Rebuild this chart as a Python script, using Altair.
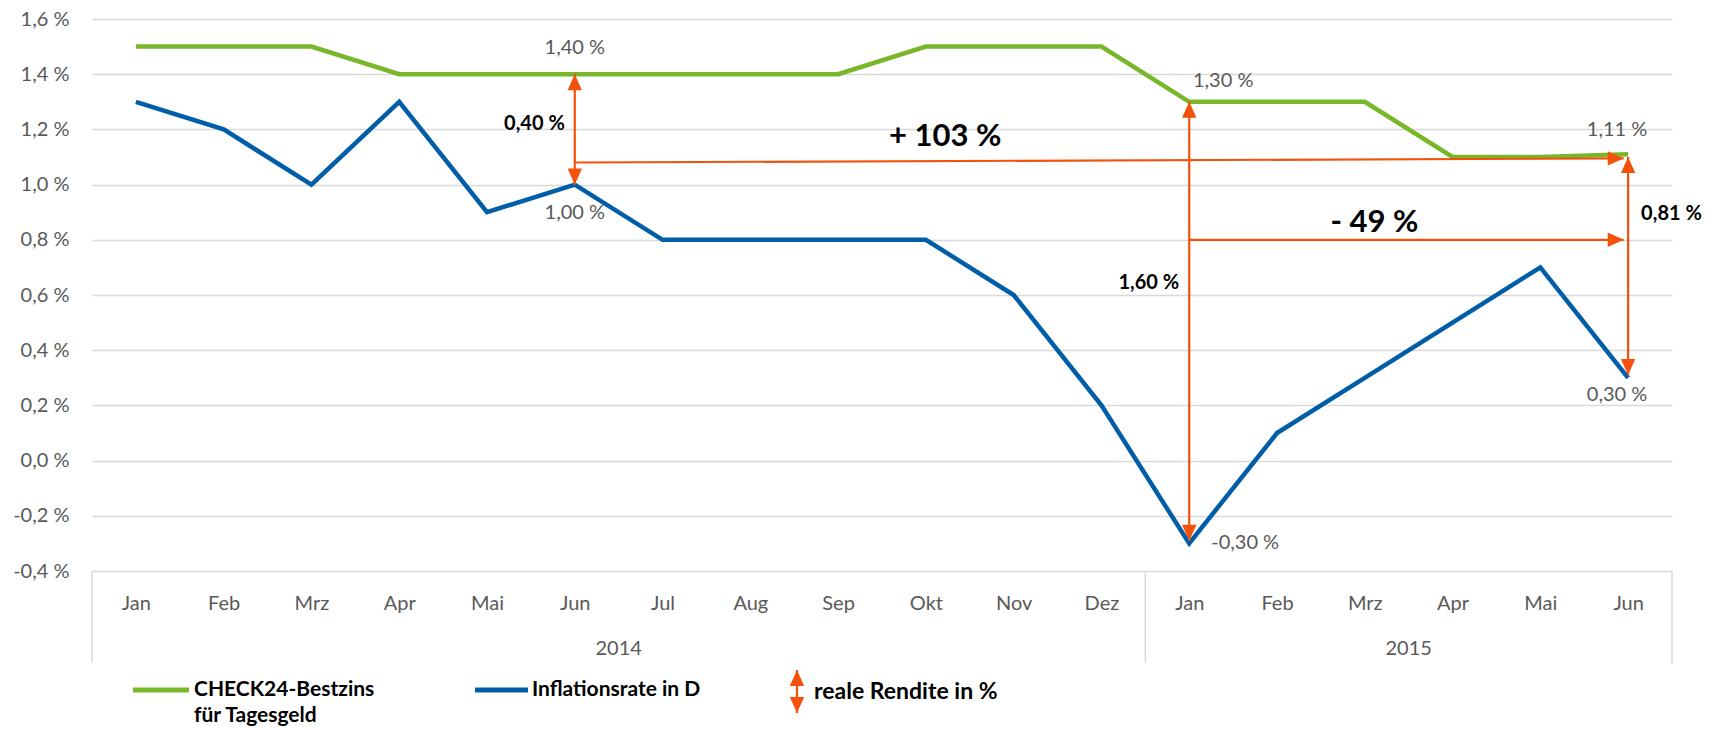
import altair as alt
import pandas as pd

# ---------------- data ----------------
months = ["Jan", "Feb", "Mrz", "Apr", "Mai", "Jun", "Jul", "Aug", "Sep", "Okt", "Nov", "Dez",
          "Jan", "Feb", "Mrz", "Apr", "Mai", "Jun"]
years = ["2014"] * 12 + ["2015"] * 6
bestzins = [1.50, 1.50, 1.50, 1.40, 1.40, 1.40, 1.40, 1.40, 1.40, 1.50, 1.50, 1.50,
            1.30, 1.30, 1.30, 1.10, 1.10, 1.11]
inflation = [1.30, 1.20, 1.00, 1.30, 0.90, 1.00, 0.80, 0.80, 0.80, 0.80, 0.60, 0.20,
             -0.30, 0.10, 0.30, 0.50, 0.70, 0.30]
y_ticks = [-0.4, -0.2, 0.0, 0.2, 0.4, 0.6, 0.8, 1.0, 1.2, 1.4, 1.6]

# real-return arrows (month index, lower value, upper value, label)
real_idx = [5, 12, 17]
real_low = [1.00, -0.29, 0.31]
real_high = [1.40, 1.30, 1.10]
real_labels = ["0,40 %", "1,60 %", "0,81 %"]
real_label_y = [1.22, 0.645, 0.895]

# change arrows (start index, start value, end index, end value)
chg_start_idx = [5, 12]
chg_start_val = [1.08, 0.80]
chg_end_idx = [17, 17]
chg_end_val = [1.095, 0.80]
chg_labels = ["+ 103 %", "- 49 %"]
chg_label_x = [9.72, 14.61]
chg_label_y = [1.173, 0.862]

legend_texts = ["CHECK24-Bestzins", "für Tagesgeld", "Inflationsrate in D", "reale Rendite in %"]

# ---------------- style ----------------
GREEN = "#78b72a"
BLUE = "#005ea8"
ORANGE = "#f4510b"
GRID = "#d9d9d9"
GRAY = "#595959"
FONT = "Lato"
W, H = 1580, 552
FS = 20


def pct(v):
    return f"{v:.2f}".replace(".", ",") + " %"


df = pd.DataFrame({
    "x": [i + 0.5 for i in range(len(months))],
    "month": months,
    "year": years,
    "bestzins": bestzins,
    "inflation": inflation,
})

xs = alt.Scale(domain=[0, len(months)], nice=False, zero=False)
ys = alt.Scale(domain=[y_ticks[0], y_ticks[-1]], nice=False, zero=False)

month_expr = "[" + ",".join(f"'{m}'" for m in months) + "][floor(datum.value)]"
y_expr = "(datum.value < -0.0001 ? '-' : '') + replace(format(abs(datum.value), '.1f'), '.', ',') + ' %'"

x_axis = alt.Axis(values=[i + 0.5 for i in range(len(months))], labelExpr=month_expr, title=None,
                  grid=False, ticks=False, tickSize=0, domain=False, labelFont=FONT,
                  labelFontSize=FS, labelColor=GRAY, labelPadding=32, labelBaseline="middle")
y_axis = alt.Axis(values=y_ticks, labelExpr=y_expr, title=None, grid=True, gridColor=GRID,
                  gridWidth=1.5, ticks=False, tickSize=0, domain=False, labelFont=FONT,
                  labelFontSize=FS, labelColor=GRAY, labelPadding=23)


def X(field):
    return alt.X(f"{field}:Q", scale=xs, axis=x_axis)


def Y(field):
    return alt.Y(f"{field}:Q", scale=ys, axis=y_axis)


UP = "M0,0L0.45,1L-0.45,1Z"
DOWN = "M0,0L0.45,-1L-0.45,-1Z"
RIGHT = "M0,0L-1,-0.45L-1,0.45Z"
HEAD = 1024

layers = []

# year separators & year labels
bounds = [0] + [i for i in range(1, len(years)) if years[i] != years[i - 1]] + [len(years)]
sep_df = pd.DataFrame({"b": bounds})
layers.append(alt.Chart(sep_df).mark_rule(color=GRID, strokeWidth=1.5).encode(
    x=X("b"), y=alt.value(H), y2=alt.value(H + 92)))
yr_df = pd.DataFrame({
    "year": [years[bounds[k]] for k in range(len(bounds) - 1)],
    "xc": [(bounds[k] + bounds[k + 1]) / 2 for k in range(len(bounds) - 1)],
})
layers.append(alt.Chart(yr_df).mark_text(font=FONT, fontSize=FS, color=GRAY, baseline="middle").encode(
    x=X("xc"), y=alt.value(H + 78), text="year:N"))

# lines
layers.append(alt.Chart(df).mark_line(color=GREEN, strokeWidth=4.5, strokeJoin="miter").encode(
    x=X("x"), y=Y("bestzins")))
layers.append(alt.Chart(df).mark_line(color=BLUE, strokeWidth=4.5, strokeJoin="miter").encode(
    x=X("x"), y=Y("inflation")))

# vertical real-return arrows
va = pd.DataFrame({"x": [i + 0.5 for i in real_idx], "lo": real_low, "hi": real_high,
                   "label": real_labels, "ly": real_label_y})
layers.append(alt.Chart(va).mark_rule(color=ORANGE, strokeWidth=2.2).encode(
    x=X("x"), y=Y("lo"), y2="hi"))
layers.append(alt.Chart(va).mark_point(shape=UP, filled=True, color=ORANGE, opacity=1, size=HEAD,
                                       strokeWidth=0).encode(x=X("x"), y=Y("hi")))
layers.append(alt.Chart(va).mark_point(shape=DOWN, filled=True, color=ORANGE, opacity=1, size=HEAD,
                                       strokeWidth=0).encode(x=X("x"), y=Y("lo")))
# labels of real returns
left_lab = va.iloc[:2]
right_lab = va.iloc[2:]
layers.append(alt.Chart(left_lab).mark_text(font=FONT, fontSize=20, fontWeight="bold", color="black",
                                            align="right", baseline="middle", dx=-10).encode(
    x=X("x"), y=Y("ly"), text="label:N"))
layers.append(alt.Chart(right_lab).mark_text(font=FONT, fontSize=20, fontWeight="bold", color="black",
                                             align="left", baseline="middle", dx=13).encode(
    x=X("x"), y=Y("ly"), text="label:N"))

# horizontal change arrows
ha = pd.DataFrame({"x1": [i + 0.5 for i in chg_start_idx], "y1": chg_start_val,
                   "x2": [i + 0.45 for i in chg_end_idx], "y2": chg_end_val,
                   "label": chg_labels, "lx": chg_label_x, "ly": chg_label_y})
layers.append(alt.Chart(ha).mark_rule(color=ORANGE, strokeWidth=2.2).encode(
    x=X("x1"), y=Y("y1"), x2="x2", y2="y2"))
layers.append(alt.Chart(ha).mark_point(shape=RIGHT, filled=True, color=ORANGE, opacity=1, size=HEAD,
                                       strokeWidth=0).encode(x=X("x2"), y=Y("y2")))
layers.append(alt.Chart(ha).mark_text(font=FONT, fontSize=31, fontWeight="bold", color="black",
                                      align="center", baseline="middle").encode(
    x=X("lx"), y=Y("ly"), text="label:N"))

# point labels
def point_label(series, idx, dx, dy, align="center"):
    vals = bestzins if series == "bestzins" else inflation
    d = pd.DataFrame({"x": [idx + 0.5], "v": [vals[idx]], "t": [pct(vals[idx])]})
    return alt.Chart(d).mark_text(font=FONT, fontSize=FS, color=GRAY, align=align, baseline="middle",
                                  dx=dx, dy=dy).encode(x=X("x"), y=Y("v"), text="t:N")


layers.append(point_label("bestzins", 5, 0, -26))
layers.append(point_label("inflation", 5, 0, 28))
layers.append(point_label("bestzins", 12, 34, -21))
layers.append(point_label("inflation", 12, 22, 0, "left"))
layers.append(point_label("bestzins", 17, -11, -24))
layers.append(point_label("inflation", 17, -11, 17))

# custom legend below the axis
LY = H + 119
one = pd.DataFrame({"k": [0]})
layers.append(alt.Chart(one).mark_rule(color=GREEN, strokeWidth=5).encode(
    x=alt.value(41), x2=alt.value(97), y=alt.value(LY)))
layers.append(alt.Chart(one).mark_rule(color=BLUE, strokeWidth=5).encode(
    x=alt.value(383), x2=alt.value(436), y=alt.value(LY)))
layers.append(alt.Chart(one).mark_rule(color=ORANGE, strokeWidth=2.2).encode(
    x=alt.value(705), y=alt.value(LY - 20), y2=alt.value(LY + 23)))
layers.append(alt.Chart(one).mark_point(shape=UP, filled=True, color=ORANGE, opacity=1, size=1024,
                                        strokeWidth=0).encode(x=alt.value(705), y=alt.value(LY - 20)))
layers.append(alt.Chart(one).mark_point(shape=DOWN, filled=True, color=ORANGE, opacity=1, size=1024,
                                        strokeWidth=0).encode(x=alt.value(705), y=alt.value(LY + 23)))
leg_df = pd.DataFrame({"t": legend_texts})
leg_pos = [(102, LY, 21), (102, LY + 26, 21), (440, LY, 21), (722, LY + 2, 23)]
for k, (lx, ly, fs) in enumerate(leg_pos):
    layers.append(alt.Chart(leg_df.iloc[[k]]).mark_text(
        font=FONT, fontSize=fs, fontWeight="bold", color="black", align="left", baseline="middle").encode(
        x=alt.value(lx), y=alt.value(ly), text="t:N"))

chart = alt.layer(*layers).properties(
    width=W, height=H,
    padding={"left": 84, "top": 11, "right": 40, "bottom": 157},
    autosize=alt.AutoSizeParams(type="none"),
    background="white",
).configure_view(stroke=None)

chart.save("out.html", embed_options={"renderer": "svg", "actions": False})
